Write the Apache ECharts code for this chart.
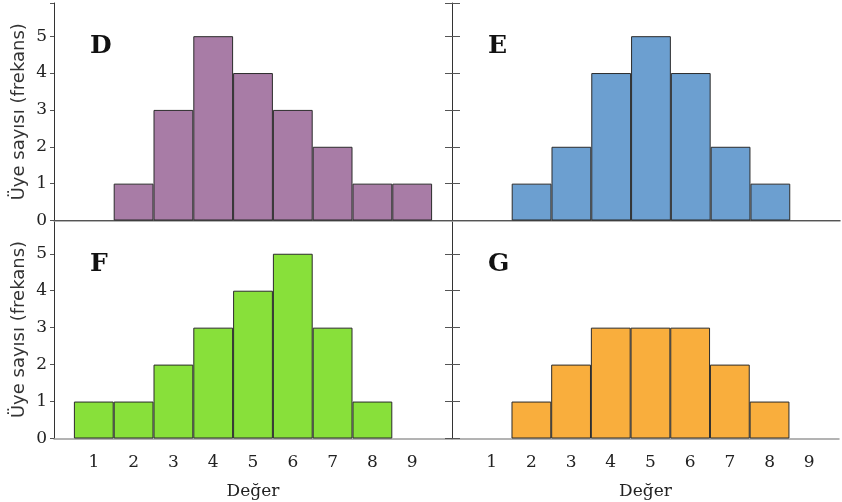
<!DOCTYPE html>
<html>
<head>
<meta charset="utf-8">
<script src="https://cdn.jsdelivr.net/npm/echarts@6/dist/echarts.min.js"></script>
<style>
    html, body { margin: 0; padding: 0; background: #fff; }
    #chart { width: 842px; height: 502px; }
</style>
</head>
<body>
<div id="chart"></div>
<script>
// tick labels on the x axis
const xTicks = [1, 2, 3, 4, 5, 6, 7, 8, 9];

// D panel
const dValues = [2, 3, 4, 5, 6, 7, 8, 9];
const dCounts = [1, 3, 5, 4, 3, 2, 1, 1];
// E panel
const eValues = [2, 3, 4, 5, 6, 7, 8];
const eCounts = [1, 2, 4, 5, 4, 2, 1];
// F panel
const fValues = [1, 2, 3, 4, 5, 6, 7, 8];
const fCounts = [1, 1, 2, 3, 4, 5, 3, 1];
// G panel
const gValues = [2, 3, 4, 5, 6, 7, 8];
const gCounts = [1, 2, 3, 3, 3, 2, 1];

const panelNames = ['D', 'E', 'F', 'G'];
const panelColors = ['#a87ca6', '#6c9fd0', '#88e03a', '#f9ae3d'];
const yName = 'Üye sayısı (frekans)';
const xName = 'Değer';

const serif = 'DejaVu Serif';
const sans = 'DejaVu Sans';

const grids = [
    { left: 54, top: 3, width: 398, height: 217.5 },
    { left: 452, top: 3, width: 388, height: 217.5 },
    { left: 54, top: 220.5, width: 398, height: 218 },
    { left: 452, top: 220.5, width: 388, height: 218 }
];

const xMax = [10, 9.75, 10, 9.75];

const xAxes = [];
const yAxes = [];
grids.forEach((g, i) => {
    const isBottom = i >= 2;
    xAxes.push({
        type: 'value',
        gridIndex: i,
        min: 0,
        max: xMax[i],
        interval: 1,
        splitLine: { show: false },
        axisTick: { show: false },
        axisLine: { show: true, onZero: false, lineStyle: { color: '#9a9a9a', width: 1.5 } },
        axisLabel: {
            show: isBottom,
            margin: 16,
            fontFamily: serif,
            fontSize: 17,
            color: '#222',
            formatter: v => xTicks.includes(v) ? String(v) : ''
        },
        name: isBottom ? xName : '',
        nameLocation: 'middle',
        nameGap: 45,
        nameTextStyle: { fontFamily: serif, fontSize: 17, color: '#222' }
    });
});
// top border of the upper panels
[0, 1].forEach(i => {
    xAxes.push({
        type: 'value',
        gridIndex: i,
        position: 'top',
        min: 0,
        max: xMax[i],
        splitLine: { show: false },
        axisTick: { show: false },
        axisLabel: { show: false },
        axisLine: { show: true, lineStyle: { color: '#555', width: 1 } }
    });
});

grids.forEach((g, i) => {
    const isLeft = i % 2 === 0;
    yAxes.push({
        type: 'value',
        gridIndex: i,
        position: 'left',
        min: 0,
        max: 5.9,
        interval: 1,
        splitLine: { show: false },
        axisLine: { show: true, lineStyle: { color: '#333', width: 1 } },
        axisTick: {
            show: true,
            length: isLeft ? 4 : 7,
            lineStyle: { color: '#555' }
        },
        axisLabel: {
            show: isLeft,
            margin: 7,
            fontFamily: serif,
            fontSize: 17,
            color: '#222',
            formatter: v => (v % 1 === 0) ? String(v) : ''
        },
        name: isLeft ? yName : '',
        nameLocation: 'middle',
        nameGap: 26,
        nameTextStyle: { fontFamily: sans, fontSize: 18, color: '#333' }
    });
    if (!isLeft) {
        // ticks on the inner side of the middle line
        yAxes.push({
            type: 'value',
            gridIndex: i,
            position: 'left',
            offset: 0,
            min: 0,
            max: 5.9,
            interval: 1,
            splitLine: { show: false },
            axisLine: { show: false },
            axisLabel: { show: false },
            axisTick: { show: true, inside: true, length: 8, lineStyle: { color: '#555' } }
        });
    }
});

// yAxis index per grid: 0, 1, (2 is inner ticks of 1), 3, 4, (5)
const yIndexOf = [0, 1, 3, 4];

const panelData = [
    [dValues, dCounts],
    [eValues, eCounts],
    [fValues, fCounts],
    [gValues, gCounts]
];

const series = panelData.map(([xs, ys], i) => ({
    type: 'bar',
    xAxisIndex: i,
    yAxisIndex: yIndexOf[i],
    barWidth: 39.8,
    data: xs.map((x, k) => [x, ys[k]]),
    itemStyle: {
        color: panelColors[i],
        borderColor: '#2b2b2b',
        borderWidth: 1
    },
    silent: true
}));

const titles = panelNames.map((name, i) => ({
    text: name,
    left: grids[i].left + 36,
    top: grids[i].top + 31,
    padding: 0,
    textStyle: { fontFamily: serif, fontSize: 25, fontWeight: 'bold', color: '#111' }
}));

const chart = echarts.init(document.getElementById('chart'));
chart.setOption({
    animation: false,
    backgroundColor: '#fff',
    title: titles,
    grid: grids,
    xAxis: xAxes,
    yAxis: yAxes,
    series: series
});
</script>
</body>
</html>
